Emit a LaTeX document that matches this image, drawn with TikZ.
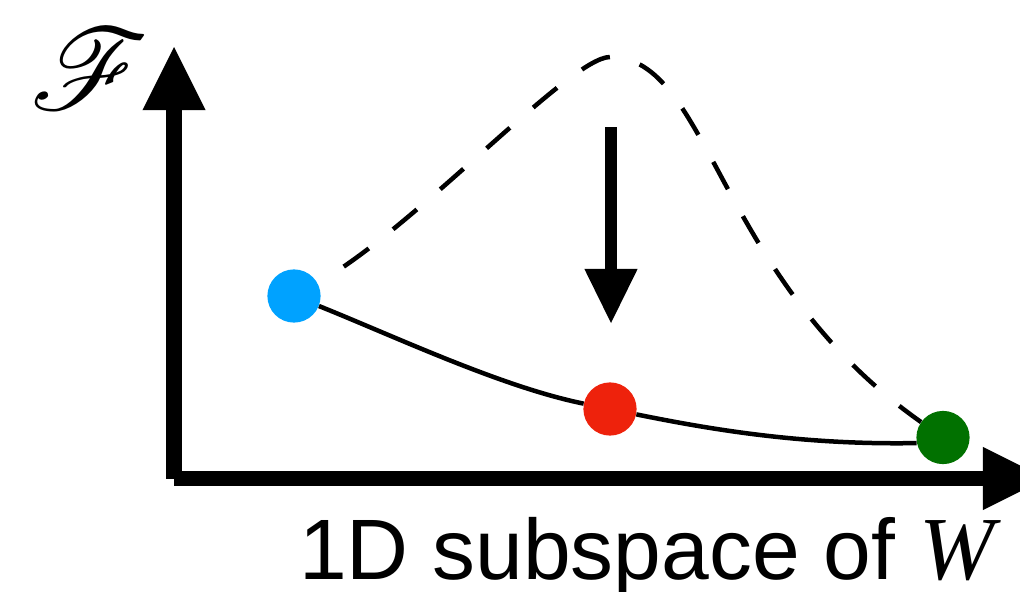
\documentclass[tikz,border=0pt]{standalone}
\usepackage{fontspec}
\setmainfont{Liberation Sans}
\newfontfamily\wfont{Liberation Serif}
\usepackage{mathrsfs}
\usetikzlibrary{arrows.meta,positioning}
\definecolor{ptblue}{HTML}{00A2FF}
\definecolor{ptred}{HTML}{EE220C}
\definecolor{ptgreen}{HTML}{017100}

\begin{document}
\begin{tikzpicture}[x=0.025cm, y=-0.025cm,
  axis/.style={line width=10.7pt, -{Triangle[length=1.575cm, width=1.575cm, line width=0pt]}},
  descent/.style={line width=9.2pt, -{Triangle[length=1.35cm, width=1.33cm, line width=0pt]}},
  lossline/.style={line width=3.2pt},
  guess/.style={line width=3.2pt, dash pattern=on 22pt off 22pt, dash phase=22pt},
  dot/.style={circle, inner sep=0pt, minimum size=1.33cm},
]
\useasboundingbox (0,0) rectangle (1020,592);
% --- axes ---
\coordinate (origin) at (174,478.5);
\coordinate (ytip) at (174,47);
\coordinate (xtip) at (1046,478.5);
\draw[axis] (origin) -- (ytip);
\draw[axis] (origin) -- (xtip);
\node[inner sep=0pt, font=\normalsize, scale=8.2] (flabel) at (90,69) {$\mathscr{F}$};
\node[anchor=base west, inner sep=0pt, font=\fontsize{61}{62}\selectfont] (xlabel) at (299,579)
  {1D subspace of {\wfont\itshape\fontsize{64}{64}\selectfont W}};
% --- points on the 1D subspace ---
\node[dot, fill=ptblue] (init) at (294,296) {};
\node[dot, fill=ptred] (mid) at (610,409) {};
\node[dot, fill=ptgreen] (final) at (943,437.5) {};
\coordinate (peak) at (610,57);
% --- dashed barrier and solid path ---
\draw[guess] (init) .. controls (413,230) and (570,57) .. (peak)
  .. controls +(100,0) and (715,277) .. (final);
\draw[lossline] (init) .. controls (396,337) and (502,387) .. (mid)
  .. controls (718,431) and (807,445) .. (final.192);
% --- push down ---
\coordinate (dtop) at (611,127);
\coordinate (dtip) at (611,323);
\draw[descent] (dtop) -- (dtip);
\end{tikzpicture}
\end{document}
